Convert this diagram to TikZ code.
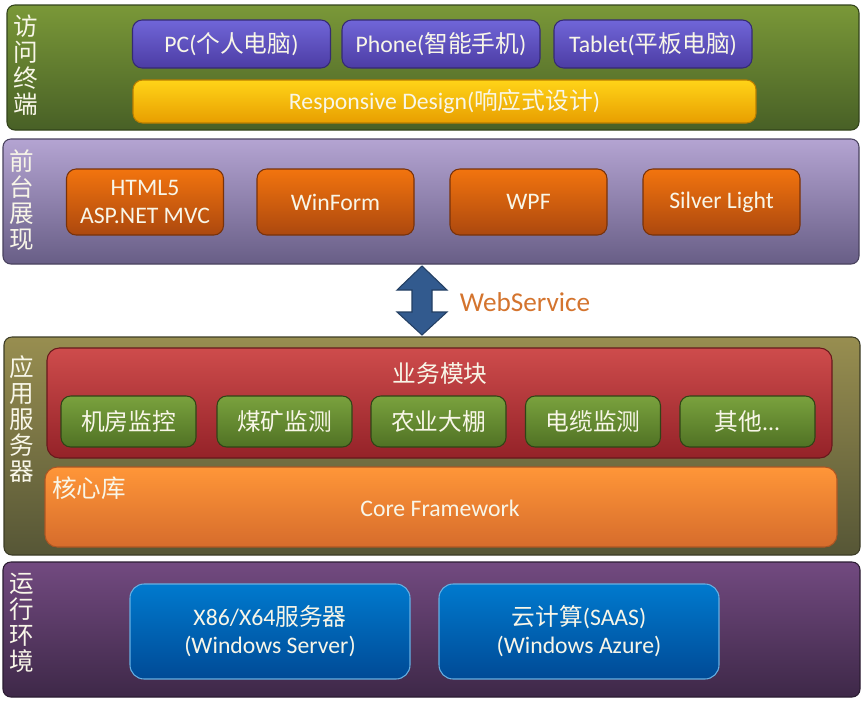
\documentclass[tikz,border=0pt]{standalone}
\usepackage{fontspec}
\setmainfont{Carlito}
\newfontfamily\cjk{Noto Sans CJK SC}
\usepackage{xcolor}
\usepackage{tikz}
\usetikzlibrary{positioning}
\definecolor{txtwhite}{RGB}{248,246,232}
\definecolor{termtop}{RGB}{122,152,56}
\definecolor{termbot}{RGB}{72,96,38}
\definecolor{devtop}{RGB}{112,102,216}
\definecolor{devbot}{RGB}{76,60,164}
\definecolor{rwdtop}{RGB}{255,212,24}
\definecolor{rwdbot}{RGB}{232,158,0}
\definecolor{fronttop}{RGB}{180,164,210}
\definecolor{frontbot}{RGB}{104,94,134}
\definecolor{uitop}{RGB}{242,116,14}
\definecolor{uibot}{RGB}{172,72,14}
\definecolor{apptop}{RGB}{152,142,80}
\definecolor{appbot}{RGB}{86,86,54}
\definecolor{biztop}{RGB}{206,76,76}
\definecolor{bizbot}{RGB}{148,34,40}
\definecolor{modtop}{RGB}{122,162,62}
\definecolor{modbot}{RGB}{80,114,36}
\definecolor{coretop}{RGB}{255,150,56}
\definecolor{corebot}{RGB}{214,108,44}
\definecolor{runtop}{RGB}{114,74,128}
\definecolor{runbot}{RGB}{62,40,72}
\definecolor{hosttop}{RGB}{0,122,206}
\definecolor{hostbot}{RGB}{0,74,150}
\definecolor{wsblue}{RGB}{50,90,142}
\definecolor{wsorange}{RGB}{212,116,46}
\newlength\pxu
\setlength\pxu{0.02cm}

\begin{document}
\begin{tikzpicture}[x=0.02cm, y=-0.02cm,
    box/.style={rectangle, rounded corners=5.5pt, line width=0.6pt, inner sep=0pt,
      align=center, text=txtwhite, font=\fontsize{13.5}{16}\selectfont},
    layer/.style={box, rounded corners=4.5pt},
    tag/.style={inner sep=0pt, align=center, text=txtwhite,
      font=\cjk\fontsize{14}{14.7}\selectfont},
    termlayer/.style={layer, draw=termbot!70!black, top color=termtop, bottom color=termbot},
    frontlayer/.style={layer, draw=frontbot!70!black, top color=fronttop, bottom color=frontbot},
    applayer/.style={layer, draw=appbot!70!black, top color=apptop, bottom color=appbot},
    runlayer/.style={layer, draw=runbot!70!black, top color=runtop, bottom color=runbot},
    devbtn/.style={box, draw=devbot!70!black, top color=devtop, bottom color=devbot,
      minimum width=198\pxu, minimum height=48\pxu},
    rwdbar/.style={box, draw=rwdbot!80!black, top color=rwdtop, bottom color=rwdbot},
    uibtn/.style={box, draw=uibot!70!black, top color=uitop, bottom color=uibot,
      minimum width=157\pxu, minimum height=66\pxu},
    bizbox/.style={box, rounded corners=7pt, draw=bizbot!70!black, top color=biztop, bottom color=bizbot},
    modbtn/.style={box, draw=modbot!60!black, top color=modtop, bottom color=modbot,
      minimum width=135\pxu, minimum height=51\pxu},
    corebox/.style={box, rounded corners=7pt, draw=corebot!80!black, top color=coretop, bottom color=corebot},
    hostbtn/.style={box, rounded corners=8pt, draw=hosttop!60!white, top color=hosttop, bottom color=hostbot,
      minimum width=280\pxu, minimum height=95\pxu}]
  \fill[white] (0,0) rectangle (865,700);
  \useasboundingbox (0,0) rectangle (865,700);

  % access terminals
  \node[termlayer, minimum width=852\pxu, minimum height=125\pxu] (term) at (433,67.5) {};
  \node[tag] (termtag) at (26,65) {访\\问\\终\\端};
  \node[devbtn] (pc) at (231.5,44) {PC({\cjk 个人电脑})};
  \node[devbtn] (phone) at (441,44) {Phone({\cjk 智能手机})};
  \node[devbtn] (tablet) at (653,44) {Tablet({\cjk 平板电脑})};
  \node[rwdbar, minimum width=623\pxu, minimum height=43\pxu] (rwd) at (444.5,101.5)
    {Responsive Design({\cjk 响应式设计})};

  % front end
  \node[frontlayer, minimum width=856\pxu, minimum height=125\pxu] (front) at (431,201.5) {};
  \node[tag] (fronttag) at (22,200) {前\\台\\展\\现};
  \node[uibtn] (html) at (145,202) {HTML5\\ASP.NET MVC};
  \node[uibtn] (winform) at (335.5,202) {WinForm};
  \node[uibtn] (wpf) at (528.5,202) {WPF};
  \node[uibtn] (silver) at (721.5,202) {Silver Light};

  % web service
  \draw[fill=wsblue, draw=wsblue!70!black, line width=0.6pt]
    (422,266) -- (447,290) -- (432,290) -- (432,312) -- (447,312) -- (422,335)
    -- (397,312) -- (412,312) -- (412,290) -- (397,290) -- cycle;
  \node[text=wsorange, font=\fontsize{15.5}{18}\selectfont, inner sep=0pt] (ws) at (525,302) {WebService};

  % application server
  \node[applayer, minimum width=856\pxu, minimum height=218\pxu] (app) at (432,446) {};
  \node[tag] (apptag) at (22,419) {应\\用\\服\\务\\器};
  \node[bizbox, minimum width=785\pxu, minimum height=110\pxu] (biz) at (439.5,403) {};
  \node[text=txtwhite, font=\cjk\fontsize{13.5}{16}\selectfont, inner sep=0pt] (biztitle) at (440,373) {业务模块};
  \node[modbtn] (mod1) at (128.5,421.5) {\cjk 机房监控};
  \node[modbtn] (mod2) at (284.5,421.5) {\cjk 煤矿监测};
  \node[modbtn] (mod3) at (438.5,421.5) {\cjk 农业大棚};
  \node[modbtn] (mod4) at (593,421.5) {\cjk 电缆监测};
  \node[modbtn] (mod5) at (747.5,421.5) {{\cjk 其他}...};
  \node[corebox, minimum width=792\pxu, minimum height=80\pxu] (core) at (441,507) {};
  \node[text=txtwhite, font=\cjk\fontsize{14}{16}\selectfont, inner sep=0pt, anchor=west] (coretag) at (52,488) {核心库};
  \node[text=txtwhite, font=\fontsize{13.5}{16}\selectfont, inner sep=0pt] (coretitle) at (440,508) {Core Framework};

  % runtime
  \node[runlayer, minimum width=857\pxu, minimum height=135\pxu] (run) at (431.5,629.5) {};
  \node[tag] (runtag) at (22,623) {运\\行\\环\\境};
  \node[hostbtn] (x86) at (270,631.5) {X86/X64{\cjk 服务器}\\(Windows Server)};
  \node[hostbtn] (cloud) at (579,631.5) {{\cjk 云计算}(SAAS)\\(Windows Azure)};
\end{tikzpicture}
\end{document}
